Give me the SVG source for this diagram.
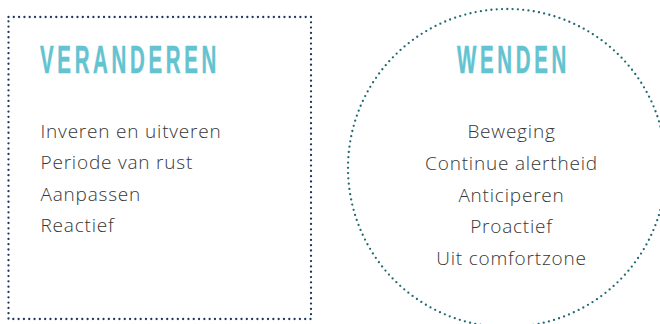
<svg xmlns="http://www.w3.org/2000/svg" width="660" height="324" viewBox="0 0 660 324">
  <style>
    .title { font-family: "Liberation Sans", Arial, sans-serif; font-weight: bold; font-size: 39px; fill: #63c3d1; stroke: #63c3d1; stroke-width: 0.5; letter-spacing: 7px; }
    .item { font-family: "Open Sans", "Noto Sans", sans-serif; font-weight: 300; font-size: 19px; letter-spacing: 0.8px; fill: #363636; }
    .dots-box { fill: none; stroke: #1c365e; stroke-width: 2.3; stroke-linecap: round; stroke-dasharray: 0 5.307; }
    .dots-ring { fill: none; stroke: #206b70; stroke-width: 2.3; stroke-linecap: round; stroke-dasharray: 0 5.314; }
  </style>
  <rect width="660" height="324" fill="#ffffff"/>

  <!-- left panel: square frame -->
  <g id="veranderen">
    <rect class="dots-box" x="8.5" y="17" width="302.5" height="302"/>
    <!-- condensed heading: narrowed horizontally -->
    <text class="title" transform="scale(0.525 1)" x="76.2" y="73">VERANDEREN</text>
    <text class="item" x="40.5" y="137.5">Inveren en uitveren</text>
    <text class="item" x="40.5" y="169">Periode van rust</text>
    <text class="item" x="40.5" y="200.5">Aanpassen</text>
    <text class="item" x="40.5" y="232">Reactief</text>
  </g>

  <!-- right panel: round frame -->
  <g id="wenden">
    <circle class="dots-ring" cx="507" cy="168" r="159"/>
    <text class="title" transform="scale(0.525 1)" x="870.5" y="73">WENDEN</text>
    <g text-anchor="middle">
      <text class="item" x="511.5" y="138">Beweging</text>
      <text class="item" x="511.5" y="169.5">Continue alertheid</text>
      <text class="item" x="511.5" y="201.5">Anticiperen</text>
      <text class="item" x="511.5" y="233">Proactief</text>
      <text class="item" x="511.5" y="265">Uit comfortzone</text>
    </g>
  </g>
</svg>
